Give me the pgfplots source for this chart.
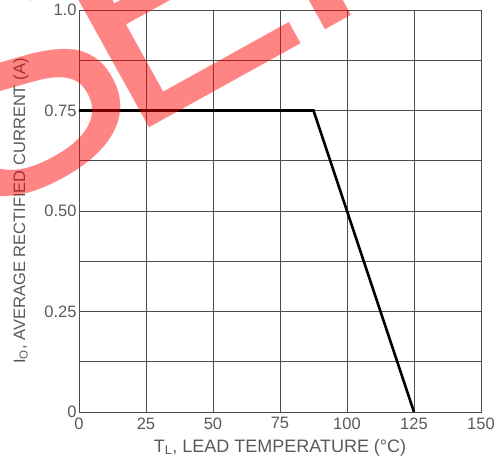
\documentclass[border=0pt]{standalone}
\usepackage{pgfplots}
\pgfplotsset{compat=1.18}
\usepackage{fontspec}
\setmainfont{Liberation Sans}
\begin{document}
\begin{tikzpicture}
\begin{axis}[
  at={(0pt,0pt)}, anchor=south west,
  scale only axis, width=402pt, height=402pt,
  xmin=0, xmax=150, ymin=0, ymax=1,
  xtick={0,25,...,150},
  ytick={0,0.125,0.25,0.375,0.5,0.625,0.75,0.875,1},
  yticklabels={0,,0.25,,0.50,,0.75,,1.0},
  grid=major,
  major grid style={black!70, line width=0.8pt},
  axis line style={black!70, line width=0.8pt},
  tick style={draw=none},
  /pgf/number format/assume math mode=true,
  tick label style={font=\fontsize{16.5}{18}\selectfont, text=black!65},
  xticklabel style={yshift=-2pt},
  yticklabel style={xshift=1pt},
  xlabel={T\textsubscript{L}, LEAD TEMPERATURE (°C)},
  ylabel={I\textsubscript{O}, AVERAGE RECTIFIED CURRENT (A)},
  xlabel style={font=\fontsize{18}{19}\selectfont, text=black!65, yshift=-3pt},
  ylabel style={font=\fontsize{16.5}{18}\selectfont, text=black!65, yshift=9pt},
]
\addplot[black, line width=2.6pt, line join=miter] coordinates {(0,0.75) (87.5,0.75) (125,0)};
\end{axis}
\begin{scope}
\clip (-79pt,-50pt) rectangle (416pt,412pt);
\node[rotate=29, text=red, opacity=0.48, inner sep=0pt, anchor=base west,
  font=\fontsize{320}{320}\selectfont] at (-111pt,184pt) {S\kern-33pt E\kern-12pt F};
\end{scope}
\pgfresetboundingbox
\path[use as bounding box] (-79pt,-50pt) rectangle (416pt,412pt);
\end{tikzpicture}
\end{document}
